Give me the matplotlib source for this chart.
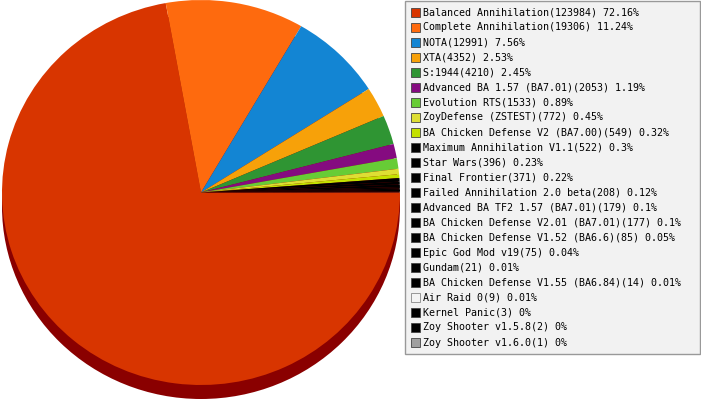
import matplotlib
matplotlib.use('Agg')
from matplotlib import pyplot as plt
from matplotlib.patches import Rectangle, Circle

mods = ['Balanced Annihilation', 'Complete Annihilation', 'NOTA', 'XTA', 'S:1944',
        'Advanced BA 1.57 (BA7.01)', 'Evolution RTS', 'ZoyDefense (ZSTEST)',
        'BA Chicken Defense V2 (BA7.00)', 'Maximum Annihilation V1.1', 'Star Wars',
        'Final Frontier', 'Failed Annihilation 2.0 beta', 'Advanced BA TF2 1.57 (BA7.01)',
        'BA Chicken Defense V2.01 (BA7.01)', 'BA Chicken Defense V1.52 (BA6.6)',
        'Epic God Mod v19', 'Gundam', 'BA Chicken Defense V1.55 (BA6.84)', 'Air Raid 0',
        'Kernel Panic', 'Zoy Shooter v1.5.8', 'Zoy Shooter v1.6.0']
games = [123984, 19306, 12991, 4352, 4210, 2053, 1533, 772, 549, 522, 396, 371,
         208, 179, 177, 85, 75, 21, 14, 9, 3, 2, 1]
percents = [72.16, 11.24, 7.56, 2.53, 2.45, 1.19, 0.89, 0.45, 0.32, 0.3, 0.23, 0.22,
            0.12, 0.1, 0.1, 0.05, 0.04, 0.01, 0.01, 0.01, 0, 0, 0]
colors = ['#d83500', '#fe6a0e', '#1385d3', '#f7a109', '#2f9533', '#850b80', '#67cc36',
          '#dede34', '#c3e000', '#000000', '#000000', '#000000', '#000000', '#000000',
          '#000000', '#000000', '#000000', '#000000', '#000000', '#f4f4f4', '#000000',
          '#000000', '#a0a0a0']

shadow_color = '#8a0000'
W, H = 701, 400
shadow_px = 14

fig = plt.figure(figsize=(W / 100, H / 100), dpi=100)

# pie face is a slightly flattened ellipse, so use an axes with auto aspect
ry = 192.5
ax = fig.add_axes([2 / W, 1 / H, 398 / W, (2 * ry + shadow_px) / H])
ax.add_patch(Circle((0, -shadow_px / ry), 1, color=shadow_color, lw=0))
ax.pie(games, colors=colors, startangle=0, counterclock=False,
       wedgeprops=dict(linewidth=0, antialiased=True))
ax.set_aspect('auto')
ax.set_xlim(-1, 1)
ax.set_ylim(-1 - shadow_px / ry, 1)
ax.axis('off')

# legend drawn in pixel coordinates
lg = fig.add_axes([0, 0, 1, 1])
lg.set_xlim(0, W)
lg.set_ylim(H, 0)
lg.axis('off')
lg.add_patch(Rectangle((405, 1), 295, 353, facecolor='#f2f2f2', edgecolor='#999999', lw=1))
for i, (name, n, p, c) in enumerate(zip(mods, games, percents, colors)):
    y = 12.5 + 15 * i
    edge = '#888888' if c == '#f4f4f4' else '#444444'
    lg.add_patch(Rectangle((411, y - 4.5), 9, 9, facecolor=c, edgecolor=edge, lw=0.6))
    lg.text(423, y, f'{name}({n}) {p:g}%', va='center', ha='left',
            fontsize=7.2, family='DejaVu Sans Mono', color='#000000')

fig.savefig('out.png', dpi=100)
